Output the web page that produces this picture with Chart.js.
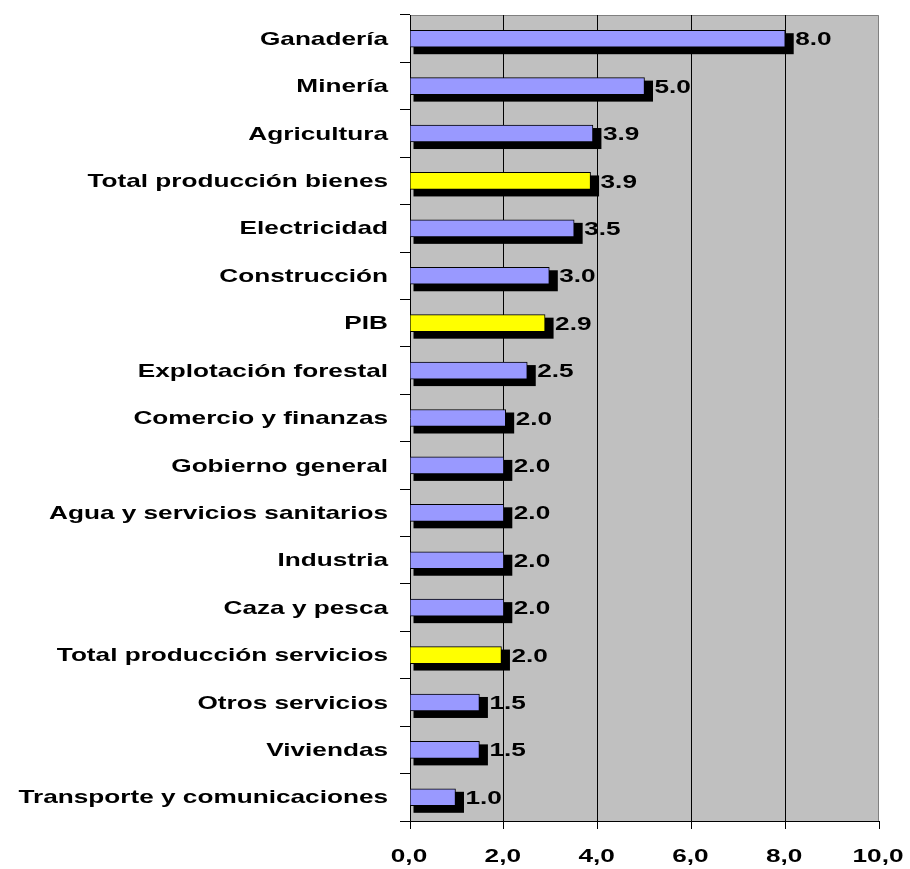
<!DOCTYPE html>
<html>
<head>
<meta charset="utf-8">
<script src="https://cdn.jsdelivr.net/npm/chart.js@4.4.0/dist/chart.umd.min.js"></script>
<style>
  body { margin: 0; background: #fff; }
</style>
</head>
<body>
<canvas id="myChart" width="910" height="869"></canvas>
<script>
  // data
  const categories = [
    'Ganadería', 'Minería', 'Agricultura', 'Total producción bienes', 'Electricidad',
    'Construcción', 'PIB', 'Explotación forestal', 'Comercio y finanzas', 'Gobierno general',
    'Agua y servicios sanitarios', 'Industria', 'Caza y pesca', 'Total producción servicios',
    'Otros servicios', 'Viviendas', 'Transporte y comunicaciones'
  ];
  const values = [8.0, 5.0, 3.9, 3.85, 3.5, 2.97, 2.88, 2.5, 2.04, 2.0, 2.0, 2.0, 2.0, 1.95, 1.48, 1.48, 0.97];
  const totals = ['Total producción bienes', 'PIB', 'Total producción servicios'];
  const xTicks = [0, 2, 4, 6, 8, 10];

  const font = 'bold 18.5px "Liberation Sans", Arial, sans-serif';
  const stretch = 1.415;   // the original text is drawn wide

  const barColors = categories.map(c => totals.includes(c) ? '#ffff00' : '#9999ff');

  function wideText(ctx, text, x, y, align) {
    ctx.save();
    ctx.translate(x, y);
    ctx.scale(stretch, 1);
    ctx.textAlign = align;
    ctx.fillText(text, 0, 0);
    ctx.restore();
  }

  // grey plot area with a thin border on top and right
  const plotBackground = {
    id: 'plotBackground',
    beforeDraw(chart) {
      const ctx = chart.ctx;
      const a = chart.chartArea;
      ctx.save();
      ctx.fillStyle = '#c0c0c0';
      ctx.fillRect(a.left, a.top, a.right - a.left, a.bottom - a.top);
      ctx.strokeStyle = '#808080';
      ctx.lineWidth = 1;
      ctx.beginPath();
      ctx.moveTo(a.left, a.top + 0.5);
      ctx.lineTo(a.right - 0.5, a.top + 0.5);
      ctx.lineTo(a.right - 0.5, a.bottom);
      ctx.stroke();
      ctx.restore();
    }
  };

  // black drop shadow behind every bar
  const barShadow = {
    id: 'barShadow',
    beforeDatasetsDraw(chart) {
      const ctx = chart.ctx;
      ctx.save();
      ctx.fillStyle = '#000';
      chart.getDatasetMeta(0).data.forEach(function(bar) {
        const top = bar.y - bar.height / 2;
        ctx.fillRect(bar.base + 3, top + 3, bar.x - bar.base + 5.5, bar.height + 4);
      });
      ctx.restore();
    }
  };

  // axis labels and bar values, stretched like the original
  const wideLabels = {
    id: 'wideLabels',
    afterDatasetsDraw(chart) {
      const ctx = chart.ctx;
      const xs = chart.scales.x;
      const ys = chart.scales.y;
      ctx.save();
      ctx.font = font;
      ctx.fillStyle = '#000';
      ctx.textBaseline = 'middle';
      categories.forEach(function(c, i) {
        wideText(ctx, c, ys.right - 22, ys.getPixelForValue(i) + 1, 'right');
      });
      xTicks.forEach(function(v) {
        wideText(ctx, v.toFixed(1).replace('.', ','), xs.getPixelForValue(v) - 1, 857, 'center');
      });
      chart.getDatasetMeta(0).data.forEach(function(bar, i) {
        const v = Math.round(values[i] * 10) / 10;
        wideText(ctx, v.toFixed(1), bar.x + 10, bar.y + 1.5, 'left');
      });
      ctx.restore();
    }
  };

  var canvas = document.getElementById('myChart');
  var setup = {
    type: 'bar',
    data: {
      labels: categories,
      datasets: [{
        data: values,
        backgroundColor: barColors,
        borderColor: '#000',
        borderWidth: 1,
        barThickness: 17
      }]
    },
    options: {
      indexAxis: 'y',
      responsive: false,
      animation: false,
      layout: { padding: { top: 15, right: 31, bottom: 0, left: 0 } },
      plugins: {
        legend: { display: false },
        tooltip: { enabled: false }
      },
      scales: {
        x: {
          min: 0,
          max: 10,
          afterBuildTicks: function(scale) {
            scale.ticks = xTicks.map(v => ({ value: v }));
          },
          grid: {
            color: c => (c.tick && c.tick.value > 0 && c.tick.value < 10) ? '#000' : 'rgba(0,0,0,0)',
            tickColor: '#000',
            tickLength: 8
          },
          border: { color: '#000', width: 1 },
          ticks: { display: false },
          afterFit: function(scale) { scale.height = 48; }
        },
        y: {
          grid: {
            drawOnChartArea: false,
            offset: true,
            tickColor: '#000',
            tickLength: 10
          },
          border: { color: '#000', width: 1 },
          ticks: { display: false },
          afterFit: function(scale) { scale.width = 410; }
        }
      }
    },
    plugins: [plotBackground, barShadow, wideLabels]
  };
  chart = new Chart(canvas, setup);
</script>
</body>
</html>
